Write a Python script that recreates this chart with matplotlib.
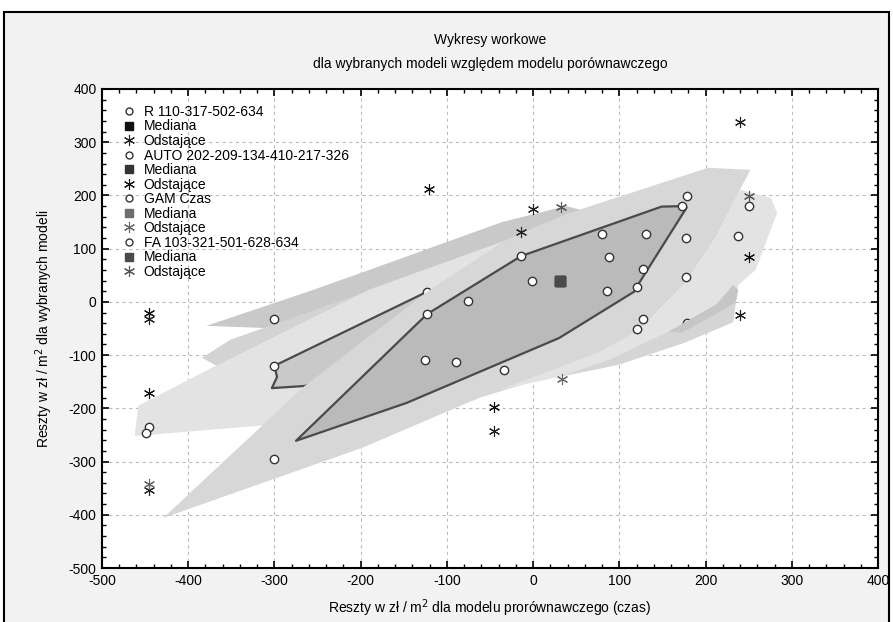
import matplotlib
matplotlib.use("Agg")
import matplotlib.pyplot as plt
from matplotlib.patches import Polygon, Rectangle
from matplotlib.lines import Line2D
from matplotlib.ticker import MultipleLocator

plt.rcParams['font.family'] = ['Liberation Sans', 'DejaVu Sans']
plt.rcParams['axes.unicode_minus'] = False

# ---------------- data ----------------
series_names = ["R 110-317-502-634", "AUTO 202-209-134-410-217-326",
                "GAM Czas", "FA 103-321-501-628-634"]

# open circles (points inside the fences)
pts_R_x = [-300, -300, -300, -446, -449]
pts_R_y = [-32, -120, -295, -235, -246]
pts_AUTO_x = [-123, -76, -125, -90, -34, -14]
pts_AUTO_y = [-23, 2, -109, -113, -128, 86]
pts_GAM_x = [80, 131, 88, 128, 120, 86, -1, 179, 173]
pts_GAM_y = [128, 128, 85, 62, 28, 21, 39, 199, 180]
pts_FA_x = [177, 250, 238, 128, 120]
pts_FA_y = [120, 180, 124, -32, -51]
# circles partly covered by regions drawn later
pts_low_x = [-123]
pts_low_y = [19]
pts_mid_x = [177, 178]
pts_mid_y = [47, -39]

# medians
med_x = [31, 31, 31, 31]
med_y = [39, 39, 39, 39]

# outliers
out_R_x = [-445, 0, 240, -14, -45, 240, -445]
out_R_y = [-33, 175, 338, 132, -242, -24, -353]
out_AUTO_x = [-121, -445, -445, -45, 250]
out_AUTO_y = [212, -20, -171, -197, 85]
out_GAM_x = [-445, 34]
out_GAM_y = [-342, -145]
out_FA_x = [32, 250]
out_FA_y = [179, 199]

# regions (fences / bags) as vertex lists
poly_P1 = [(-379, -45), (-265, 17), (-190, 60), (-36, 150), (38, 180), (65, 169),
           (30, 117), (-280, -51)]
poly_H = [(-384, -105), (-351, -71), (-178, 28), (-36, 107), (42, 154), (30, 4),
          (-365, -122)]
poly_G = [(-462, -252), (-458, -195), (-368, -120), (-190, 23), (-36, 113), (42, 167),
          (30, 0), (-155, -203), (-305, -231)]
poly_B2 = [(-300, -120), (-123, 19), (-60, -20), (-150, -110), (-265, -158),
           (-303, -162), (-297, -141)]
poly_D = [(-429, -406), (-265, -158), (-123, 19), (-31, 117), (42, 167), (203, 252),
          (252, 248), (240, 211), (212, 122), (177, 36), (123, -53), (76, -100),
          (-1, -150), (-62, -180), (-198, -274)]
poly_E = [(240, 211), (276, 195), (283, 167), (258, 60), (238, 32), (235, -2),
          (232, -38), (175, -77), (99, -118), (30, -141), (-39, -165), (76, -95),
          (123, -53), (177, 36), (212, 122)]
poly_F = [(30, -141), (99, -118), (175, -77), (232, -38), (235, -2), (215, -6),
          (157, -56), (88, -109)]
poly_S = [(157, -56), (213, -4), (232, 32), (238, 22), (235, -2), (172, -58)]
poly_B1 = [(-275, -261), (-123, -23), (-14, 86), (149, 179), (175, 180), (178, 177),
           (120, 28), (117, 19), (30, -68), (-147, -190)]

# ---------------- figure ----------------
W, H = 893, 622
fig = plt.figure(figsize=(W / 100, H / 100), dpi=100)
fig.patch.set_facecolor('white')
fig.add_artist(Rectangle((4 / W, -0.05), 885 / W, 1.05 - 12 / H,
                         transform=fig.transFigure, fc='#f2f2f2', ec='black',
                         lw=1.5, zorder=0))

ax = fig.add_axes([102 / W, 1 - 568 / H, 776 / W, 479 / H])
ax.set_facecolor('white')
ax.set_xlim(-500, 400)
ax.set_ylim(-500, 400)

ax.xaxis.set_major_locator(MultipleLocator(100))
ax.yaxis.set_major_locator(MultipleLocator(100))
ax.xaxis.set_minor_locator(MultipleLocator(20))
ax.yaxis.set_minor_locator(MultipleLocator(20))
ax.tick_params(which='both', direction='in', top=True, right=True, color='black')
ax.tick_params(which='major', length=5, width=1.2, labelsize=10, pad=4)
ax.tick_params(which='minor', length=3, width=1.0)
for s in ax.spines.values():
    s.set_linewidth(1.5)
ax.grid(True, which='major', linestyle=(0, (3, 3)), color='#bdbdbd', lw=0.8)
ax.set_axisbelow(True)

def poly(verts, fc, z, ec='none', lw=0):
    ax.add_patch(Polygon(verts, closed=True, fc=fc, ec=ec, lw=lw, zorder=z,
                         joinstyle='round'))

poly(poly_P1, '#c9c9c9', 1.0)
poly(poly_H, '#d3d3d3', 1.1)
poly(poly_G, '#e3e3e3', 1.2)
poly(poly_B2, '#c9c9c9', 1.3, ec='#4a4a4a', lw=1.6)
poly(poly_D, '#d7d7d7', 1.6)
poly(poly_E, '#e3e3e3', 1.7)
poly(poly_F, '#d5d5d5', 1.8)
poly(poly_S, '#c6c6c6', 1.9)
poly(poly_B1, '#bababa', 2.0, ec='#4a4a4a', lw=1.6)

circ = dict(marker='o', ms=6, mfc='white', mec='#333333', mew=1.0, ls='none')
ax.plot(pts_low_x, pts_low_y, zorder=1.5, **circ)
ax.plot(pts_mid_x, pts_mid_y, zorder=1.85, **circ)
ax.plot(pts_R_x, pts_R_y, zorder=5, **circ)
ax.plot(pts_AUTO_x, pts_AUTO_y, zorder=5, **circ)
ax.plot(pts_GAM_x, pts_GAM_y, zorder=5, **circ)
ax.plot(pts_FA_x, pts_FA_y, zorder=5, **circ)

med_colors = ['#111111', '#333333', '#6e6e6e', '#4a4a4a']
for mx, my, c in zip(med_x, med_y, med_colors):
    ax.plot([mx], [my], marker='s', ms=7, color=c, ls='none', zorder=6)

ast = (6, 2, 0)
out_colors = ['#222222', '#111111', '#666666', '#555555']
for xs, ys, c in zip([out_R_x, out_AUTO_x, out_GAM_x, out_FA_x],
                     [out_R_y, out_AUTO_y, out_GAM_y, out_FA_y], out_colors):
    ax.plot(xs, ys, marker=ast, ms=8, mew=0.8, color=c, ls='none', zorder=6)

# legend
handles, labels = [], []
for name, mc, oc in zip(series_names, med_colors, out_colors):
    handles += [Line2D([], [], marker='o', ms=5, mfc='white', mec='#333333', ls='none'),
                Line2D([], [], marker='s', ms=6, color=mc, ls='none'),
                Line2D([], [], marker=ast, ms=8, color=oc, mew=0.8, ls='none')]
    labels += [name, 'Mediana', 'Odstające']
ax.legend(handles, labels, loc='upper left', bbox_to_anchor=(0.01, 0.99),
          frameon=False, fontsize=10, labelspacing=0.04, handletextpad=0.45,
          handlelength=1.2, borderpad=0.3)

fig.text(490 / W, 1 - 40 / H, 'Wykresy workowe', ha='center', va='center', fontsize=10)
fig.text(490 / W, 1 - 64 / H, 'dla wybranych modeli względem modelu porównawczego',
         ha='center', va='center', fontsize=10)
ax.set_xlabel('Reszty w zł / m$^2$ dla modelu prorównawczego (czas)', fontsize=10,
              labelpad=7)
ax.set_ylabel('Reszty w zł / m$^2$ dla wybranych modeli', fontsize=10, labelpad=10)

fig.savefig('out.png', dpi=100)
